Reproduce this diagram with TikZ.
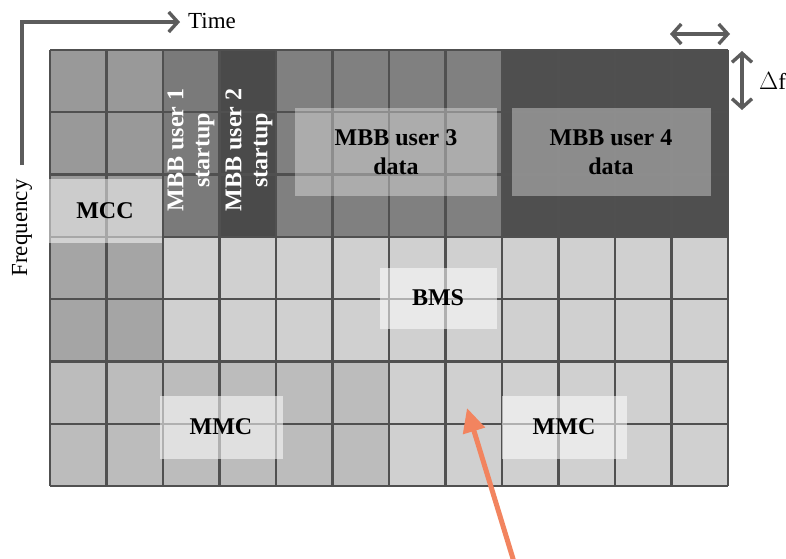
\documentclass[tikz,border=0pt]{standalone}
\usepackage{fontspec}
\setmainfont{Liberation Serif}
\usetikzlibrary{arrows.meta}
\definecolor{cA}{HTML}{999999}
\definecolor{cB}{HTML}{7A7A7A}
\definecolor{cC}{HTML}{4A4A4A}
\definecolor{cD}{HTML}{808080}
\definecolor{cE}{HTML}{4F4F4F}
\definecolor{cF}{HTML}{A5A5A5}
\definecolor{cG}{HTML}{BCBCBC}
\definecolor{cH}{HTML}{D0D0D0}
\definecolor{gridc}{HTML}{505050}
\definecolor{axisc}{HTML}{5C5C5C}
\definecolor{orangec}{HTML}{F2845F}
\newcommand\blockfill[5]{\fill[#1] ({50+56.5*#2},{50+62.29*#4}) rectangle ({50+56.5*#3},{50+62.29*#5});}
\tikzset{
  gridline/.style={draw=gridc, line width=2.4pt},
  overlay/.style={fill=white, fill opacity=#1, text opacity=1, inner sep=0pt, align=center, font=\fontsize{24}{29}\selectfont\bfseries, text=black},
  vlabel/.style={rotate=90, align=center, text=white, font=\fontsize{24}{26}\selectfont\bfseries, inner sep=0pt},
  axisarrow/.style={draw=axisc, line width=3.4pt, line join=miter},
  barb/.tip={Straight Barb[length=9pt,width=20pt,line width=3.4pt]},
  plain/.style={font=\fontsize{23}{26}\selectfont, text=black, inner sep=0pt}
}
\begin{document}
\begin{tikzpicture}[x=1pt,y=-1pt]
\useasboundingbox[fill=white] (0,0) rectangle (786,558);
% cell fills
\blockfill{cA}{0}{2}{0}{3}
\blockfill{cB}{2}{3}{0}{3}
\blockfill{cC}{3}{4}{0}{3}
\blockfill{cD}{4}{8}{0}{3}
\blockfill{cE}{8}{12}{0}{3}
\blockfill{cF}{0}{2}{3}{5}
\blockfill{cH}{2}{12}{3}{5}
\blockfill{cG}{0}{6}{5}{7}
\blockfill{cH}{6}{12}{5}{7}
% grid
\foreach \i in {0,...,12} \draw[gridline] ({50+56.5*\i},50) -- ({50+56.5*\i},486);
\foreach \j in {0,...,7} \draw[gridline] (50,{50+62.29*\j}) -- (728,{50+62.29*\j});
% overlays
\node[overlay=0.5, minimum width=114pt, minimum height=64pt] (mcc) at (105,211) {MCC};
\node[overlay=0.35, minimum width=202pt, minimum height=88pt] (mbb3) at (396,152) {MBB user 3\\data};
\node[overlay=0.35, minimum width=199pt, minimum height=88pt] (mbb4) at (611,152) {MBB user 4\\data};
\node[overlay=0.55, minimum width=117pt, minimum height=61pt] (bms) at (438,298) {BMS};
\node[overlay=0.55, minimum width=123pt, minimum height=63pt] (mmc1) at (221,427) {MMC};
\node[overlay=0.55, minimum width=125pt, minimum height=63pt] (mmc2) at (564,427) {MMC};
% vertical labels
\node[vlabel] (mbb1) at (191,150) {MBB user 1\\startup};
\node[vlabel] (mbb2) at (249,150) {MBB user 2\\startup};
% axes
\coordinate (origin) at (22,22);
\coordinate (tend) at (180,22);
\coordinate (fend) at (22,165);
\draw[axisarrow, {-barb}] (fend) -- (origin) -- (tend);
\node[plain, anchor=west] (time) at (188,21) {Time};
\node[plain, rotate=90] (freq) at (22,228) {Frequency};
% delta f
\coordinate (dtl) at (670,34);
\coordinate (dtr) at (730,34);
\coordinate (dfa) at (742,51);
\coordinate (dfb) at (742,110);
\draw[axisarrow, {barb-barb}] (dtl) -- (dtr);
\draw[axisarrow, {barb-barb}] (dfa) -- (dfb);
\node[plain, anchor=west] (df) at (759,81) {$\Delta$f};
% orange arrow
\coordinate (ostart) at (514,562);
\coordinate (otip) at (467,408);
\draw[draw=orangec, line width=5pt, -{Triangle[length=24pt,width=22pt]}] (ostart) -- (otip);
\end{tikzpicture}
\end{document}
